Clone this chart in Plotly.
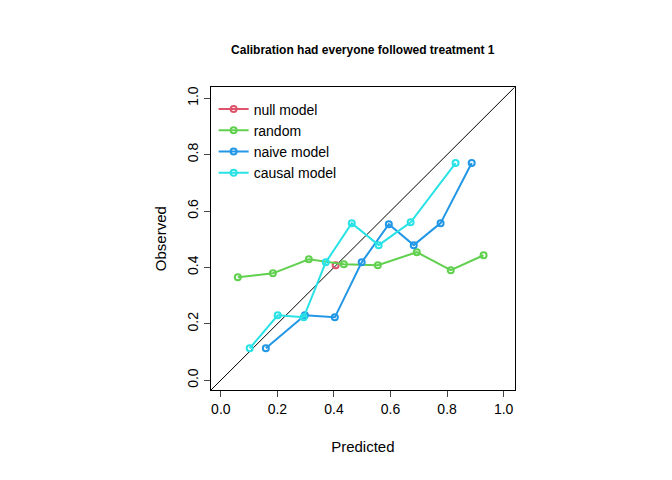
import plotly.graph_objects as go

null_x = [0.406]; null_y = [0.408]
rand_x = [0.060, 0.184, 0.311, 0.435, 0.555, 0.693, 0.813, 0.929]
rand_y = [0.365, 0.379, 0.429, 0.411, 0.408, 0.454, 0.390, 0.443]
naive_x = [0.159, 0.297, 0.403, 0.498, 0.594, 0.682, 0.777, 0.887]
naive_y = [0.113, 0.230, 0.223, 0.418, 0.553, 0.479, 0.557, 0.770]
causal_x = [0.102, 0.201, 0.293, 0.371, 0.463, 0.558, 0.671, 0.830]
causal_y = [0.113, 0.230, 0.223, 0.418, 0.557, 0.479, 0.560, 0.770]
ticks = [0.0, 0.2, 0.4, 0.6, 0.8, 1.0]

fig = go.Figure()
fig.add_trace(go.Scatter(x=[-0.1, 1.1], y=[-0.1, 1.1], mode="lines",
                         line=dict(color="black", width=1), showlegend=False))
for name, xs, ys, c in [("null model", null_x, null_y, "#DF536B"),
                        ("random", rand_x, rand_y, "#61D04F"),
                        ("naive model", naive_x, naive_y, "#2297E6"),
                        ("causal model", causal_x, causal_y, "#28E2E5")]:
    fig.add_trace(go.Scatter(x=xs, y=ys, mode="lines+markers", name=name,
                             line=dict(color=c, width=2),
                             marker=dict(symbol="circle-open", size=6, color=c, line=dict(width=2))))

axis = dict(range=[-0.035, 1.039], tickvals=ticks, ticktext=[f"{t:.1f}" for t in ticks],
            showgrid=False, zeroline=False, showline=True, linecolor="black", mirror=True,
            ticks="outside", ticklen=6, tickfont=dict(size=14, color="black"), automargin=False)
fig.update_layout(
    width=672, height=480, margin=dict(l=0, r=0, t=0, b=0, autoexpand=False),
    plot_bgcolor="white", paper_bgcolor="white",
    font=dict(family="Liberation Sans, Arial", color="black"),
    title=dict(text="<b>Calibration had everyone followed treatment 1</b>", x=0.528, y=0.912,
               xanchor="center", yanchor="middle", font=dict(size=12)),
    xaxis=dict(axis, domain=[0.302, 0.754], title=dict(text="Predicted", font=dict(size=15), standoff=25)),
    yaxis=dict(axis, domain=[0.204, 0.835], tickangle=-90,
               title=dict(text="Observed", font=dict(size=15), standoff=15)),
    legend=dict(x=0.306, y=0.822, xanchor="left", yanchor="top", bgcolor="rgba(0,0,0,0)",
                font=dict(size=14), tracegroupgap=0, itemwidth=30),
)
fig.write_html("out.html")
